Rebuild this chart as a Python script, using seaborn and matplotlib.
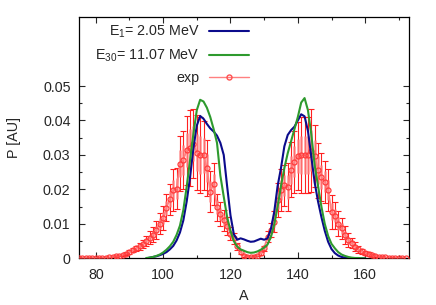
import numpy as np
import pandas as pd
import matplotlib
matplotlib.use("Agg")
import matplotlib.pyplot as plt
from matplotlib.lines import Line2D
from matplotlib.ticker import FixedLocator
import seaborn as sns

# ---- data ----
# experimental mass yield, A = 75 .. 172
a_exp = list(range(75, 173))
p_exp = [0.0, 0.0, 0.0, 0.0, 0.0, 0.0001, 0.0001, 0.0001, 0.0002, 0.0003,
         0.0004, 0.0006, 0.0008, 0.0011, 0.0014, 0.0019, 0.0024, 0.0029, 0.0035, 0.0042,
         0.0050, 0.0060, 0.0068, 0.0082, 0.0101, 0.0116, 0.0147, 0.0172, 0.0198, 0.0202,
         0.0275, 0.0285, 0.0314, 0.0319, 0.0333, 0.0307, 0.0301, 0.0299, 0.0262, 0.0193,
         0.0216, 0.0148, 0.0129, 0.0110, 0.0094, 0.0072, 0.0058, 0.0035, 0.0019, 0.0008,
         0.0004, 0.0003, 0.0004, 0.0008, 0.0015, 0.0029, 0.0063, 0.0082, 0.0106, 0.0169,
         0.0198, 0.0212, 0.0206, 0.0257, 0.0280, 0.0297, 0.0299, 0.0300, 0.0301, 0.0312,
         0.0297, 0.0256, 0.0237, 0.0222, 0.0198, 0.0135, 0.0124, 0.0101, 0.0087, 0.0068,
         0.0053, 0.0044, 0.0034, 0.0026, 0.0020, 0.0016, 0.0012, 0.0009, 0.0007, 0.0005,
         0.0004, 0.0003, 0.0002, 0.0001, 0.0001, 0.0001, 0.0001, 0.0001]
err_exp = [0.0, 0.0, 0.0, 0.0, 0.0, 0.0001, 0.0001, 0.0001, 0.0001, 0.0001,
           0.0001, 0.0002, 0.0002, 0.0003, 0.0004, 0.0005, 0.0006, 0.0008, 0.0010, 0.0012,
           0.0015, 0.0018, 0.0022, 0.0025, 0.0030, 0.0035, 0.0040, 0.0045, 0.0060, 0.0060,
           0.0080, 0.0085, 0.0100, 0.0110, 0.0100, 0.0110, 0.0110, 0.0100, 0.0080, 0.0060,
           0.0060, 0.0040, 0.0035, 0.0030, 0.0025, 0.0020, 0.0015, 0.0010, 0.0005, 0.0003,
           0.0002, 0.0002, 0.0002, 0.0002, 0.0004, 0.0008, 0.0015, 0.0020, 0.0030, 0.0050,
           0.0060, 0.0060, 0.0070, 0.0080, 0.0090, 0.0100, 0.0110, 0.0110, 0.0110, 0.0120,
           0.0090, 0.0080, 0.0070, 0.0060, 0.0060, 0.0050, 0.0040, 0.0035, 0.0030, 0.0025,
           0.0020, 0.0015, 0.0012, 0.0010, 0.0008, 0.0006, 0.0005, 0.0004, 0.0003, 0.0002,
           0.0002, 0.0001, 0.0001, 0.0001, 0.0001, 0.0001, 0.0001, 0.0001]

# calculated yields, A = 95 .. 160
a_calc = list(range(95, 161))
p_e1 = [0.0, 0.0002, 0.0004, 0.0006, 0.0009, 0.0013, 0.0018, 0.0026, 0.0036, 0.0052,
        0.0075, 0.0110, 0.0165, 0.0235, 0.0320, 0.0385, 0.0413, 0.0405, 0.0390, 0.0377,
        0.0368, 0.0356, 0.0335, 0.0300, 0.0210, 0.0125, 0.0070, 0.0054, 0.0058, 0.0055,
        0.0051, 0.0048, 0.0049, 0.0053, 0.0057, 0.0054, 0.0058, 0.0085, 0.0135, 0.0210,
        0.0262, 0.0325, 0.0358, 0.0372, 0.0382, 0.0400, 0.0418, 0.0412, 0.0370, 0.0295,
        0.0220, 0.0165, 0.0120, 0.0080, 0.0048, 0.0027, 0.0015, 0.0008, 0.0004, 0.0002,
        0.0001, 0.0, 0.0, 0.0, 0.0, 0.0]
p_e30 = [0.0001, 0.0002, 0.0004, 0.0007, 0.0011, 0.0017, 0.0025, 0.0035, 0.0048, 0.0068,
         0.0095, 0.0140, 0.0208, 0.0285, 0.0362, 0.0430, 0.0460, 0.0455, 0.0437, 0.0410,
         0.0375, 0.0335, 0.0240, 0.0179, 0.0120, 0.0080, 0.0050, 0.0034, 0.0026, 0.0022,
         0.0018, 0.0016, 0.0017, 0.0020, 0.0025, 0.0031, 0.0040, 0.0062, 0.0098, 0.0150,
         0.0210, 0.0262, 0.0305, 0.0340, 0.0375, 0.0410, 0.0452, 0.0465, 0.0430, 0.0360,
         0.0270, 0.0210, 0.0150, 0.0100, 0.0065, 0.0042, 0.0029, 0.0018, 0.0011, 0.0007,
         0.0004, 0.0002, 0.0001, 0.0001, 0.0, 0.0]

label_e1 = r"E$_1$= 2.05 MeV"
label_e30 = r"E$_{30}$= 11.07 MeV"
label_exp = "exp"

blue = "#0b0b8c"
green = "#2e9a2e"
red = "#ff2020"
pink = "#ff8080"
fs = 10.3

sns.set_style("ticks")
plt.rcParams["font.family"] = ["Liberation Sans", "DejaVu Sans"]
plt.rcParams["font.size"] = fs
plt.rcParams["mathtext.fontset"] = "custom"
plt.rcParams["mathtext.rm"] = "Liberation Sans"
plt.rcParams["mathtext.it"] = "Liberation Sans:italic"

calc = pd.DataFrame({"A": a_calc, "E1": p_e1, "E30": p_e30})

fig = plt.figure(figsize=(4.36, 3.05), dpi=100)
ax = fig.add_axes([0.181, 0.153, 0.757, 0.791])

# experimental points with error bars
ax.errorbar(a_exp, p_exp, yerr=err_exp, fmt="none", ecolor=red, elinewidth=0.8,
            capsize=2, capthick=0.8, zorder=2)
ax.errorbar(a_exp, p_exp, yerr=np.array(err_exp) * 0.5, fmt="none", ecolor=pink,
            elinewidth=1.8, alpha=0.8, zorder=2)
sns.lineplot(x=a_exp, y=p_exp, ax=ax, color=pink, lw=1.3, marker="o", markersize=3.6,
             markerfacecolor="none", markeredgecolor="#ff3c3c", markeredgewidth=0.9,
             zorder=3)

sns.lineplot(data=calc, x="A", y="E1", ax=ax, color=blue, lw=1.5, zorder=4)
sns.lineplot(data=calc, x="A", y="E30", ax=ax, color=green, lw=1.5, zorder=4)

ax.set_xlim(75, 173)
ax.set_ylim(0, 0.07)
ax.xaxis.set_major_locator(FixedLocator([80, 100, 120, 140, 160]))
ax.xaxis.set_minor_locator(FixedLocator([90, 110, 130, 150, 170]))
ax.yaxis.set_major_locator(FixedLocator([0, 0.01, 0.02, 0.03, 0.04, 0.05]))
ax.yaxis.set_minor_locator(FixedLocator([0.005, 0.015, 0.025, 0.035, 0.045]))
ax.set_yticklabels(["0", "0.01", "0.02", "0.03", "0.04", "0.05"])
ax.tick_params(which="both", direction="in", top=True, right=True, width=0.8,
               labelsize=fs)
ax.tick_params(axis="x", pad=7)
ax.tick_params(axis="y", pad=6)
ax.tick_params(which="major", length=4)
ax.tick_params(which="minor", length=2)
for s in ax.spines.values():
    s.set_linewidth(0.9)
    s.set_color("black")
ax.set_xlabel("A", fontsize=fs, labelpad=5)
ax.set_ylabel("P [AU]", fontsize=fs, labelpad=16)

handles = [Line2D([], [], color=blue, lw=1.5),
           Line2D([], [], color=green, lw=1.5),
           Line2D([], [], color=pink, lw=1.0, marker="o", markersize=3.6,
                  markerfacecolor="none", markeredgecolor="#ff5050")]
ax.legend(handles, [label_e1, label_e30, label_exp], loc="upper right",
          bbox_to_anchor=(249 / 436, 1 - 24 / 305), bbox_transform=fig.transFigure,
          frameon=False, markerfirst=False, handlelength=2.8, handletextpad=0.65,
          labelspacing=0.5, borderpad=0, borderaxespad=0, numpoints=1, fontsize=fs)

fig.savefig("out.png", dpi=100)
